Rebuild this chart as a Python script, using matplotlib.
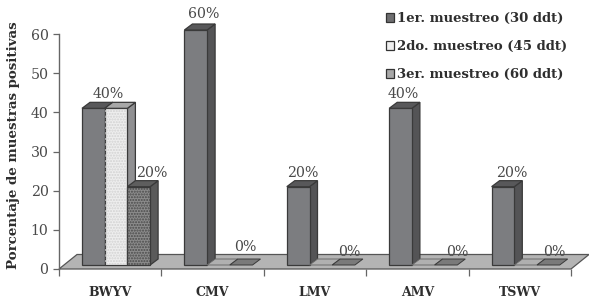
import matplotlib
matplotlib.use("Agg")
import matplotlib.pyplot as plt
from matplotlib.patches import Polygon, Patch

categories = ["BWYV", "CMV", "LMV", "AMV", "TSWV"]
series_names = ["1er. muestreo (30 ddt)", "2do. muestreo (45 ddt)", "3er. muestreo (60 ddt)"]
muestreo_1 = [40, 60, 20, 40, 20]
muestreo_2 = [40, 0, 0, 0, 0]
muestreo_3 = [20, 0, 0, 0, 0]
y_ticks = [0, 10, 20, 30, 40, 50, 60]
ylabel = "Porcentaje de muestras positivas"

# label: (category, series, text, dx px from bar centre, px above axis zero)
value_labels = [
    (0, 1, "40%", -8, 175), (0, 2, "20%", 13, 96),
    (1, 0, "60%", 8, 255), (1, 2, "0%", 4, 22),
    (2, 0, "20%", 5, 96), (2, 2, "0%", 6, 17),
    (3, 0, "40%", 3, 175), (3, 2, "0%", 11, 17),
    (4, 0, "20%", 9, 96), (4, 2, "0%", 6, 17),
]

W, H = 589, 300
L, R, B, T = 59.0, 571.0, 269.0, 34.0
fig = plt.figure(figsize=(W / 100, H / 100), dpi=100)
ax = fig.add_axes([L / W, 1 - B / H, (R - L) / W, (B - T) / H])
ax.set_xlim(0, 5)
ax.set_ylim(0, 60)
ax.patch.set_visible(False)

SERIF = "DejaVu Serif"
DARK = "#3a3a3a"
TXT = "#4a4a4a"
px_x = 5 / (R - L)
px_y = 60 / (B - T)

# Floor
DX, DY = 18 * px_x, 14.5 * px_y
ax.add_patch(Polygon([(0, 0), (5, 0), (5 + DX, DY), (DX, DY)], closed=True,
                     facecolor="#b4b4b4", edgecolor="#555555", lw=0.9,
                     clip_on=False, zorder=1))

BW = 22.7 * px_x
START = 23 * px_x
D = 8 * px_x
E = 6 * px_y
BASE = 4 * px_y

styles = [
    dict(front="#7c7d80", top="#58585a", side="#545456", hatch=None, hc=None),
    dict(front="#eeeeee", top="#a8a8a8", side="#909092", hatch="......", hc="#d2d2d2"),
    dict(front="#8c8c8c", top="#5e5e5e", side="#5a5a5a", hatch="......", hc="#4a4a4a"),
]


def bar3d(x, v, st, z):
    y0, y1 = BASE, BASE + v
    kw = dict(closed=True, clip_on=False, zorder=z, lw=0.9, edgecolor=DARK)
    if v > 0:
        ax.add_patch(Polygon([(x + BW, y0), (x + BW + D, y0 + E), (x + BW + D, y1 + E), (x + BW, y1)],
                             facecolor=st["side"], **kw))
        ax.add_patch(Polygon([(x, y0), (x + BW, y0), (x + BW, y1), (x, y1)],
                             facecolor=st["front"], **kw))
        if st["hatch"]:
            ax.add_patch(Polygon([(x, y0), (x + BW, y0), (x + BW, y1), (x, y1)], closed=True,
                                 facecolor="none", edgecolor=st["hc"], hatch=st["hatch"],
                                 lw=0, clip_on=False, zorder=z))
    flat_light = v == 0 and st is styles[1]
    top = "#b0b0b0" if flat_light else ("#7a7a7a" if v == 0 else st["top"])
    ax.add_patch(Polygon([(x, y1), (x + BW, y1), (x + BW + D, y1 + E), (x + D, y1 + E)],
                         facecolor=top, closed=True, clip_on=False, zorder=z,
                         lw=0.7 if v == 0 else 0.9,
                         edgecolor="#6a6a6a" if flat_light else DARK))


all_series = [muestreo_1, muestreo_2, muestreo_3]
for i in range(len(categories)):
    for s, vals in enumerate(all_series):
        bar3d(i + START + s * BW, vals[i], styles[s], 3 + s)

for c, s, txt, dx, up in value_labels:
    xc = c + START + (s + 0.5) * BW
    ax.text(xc + dx * px_x, up * px_y, txt, ha="center", va="center", family=SERIF,
            fontsize=10.2, color=TXT, clip_on=False, zorder=10)

# Axes
for sp in ("top", "right", "bottom"):
    ax.spines[sp].set_visible(False)
ax.spines["left"].set_color("#666666")
ax.spines["left"].set_linewidth(1.0)
ax.set_yticks(y_ticks)
ax.set_xticks(range(len(categories) + 1))
ax.set_xticklabels([""] * (len(categories) + 1))
ax.tick_params(axis="y", length=4.5, width=0.9, color="#666666", labelsize=10.2,
               labelcolor=TXT, pad=3)
ax.tick_params(axis="x", length=5, width=0.9, color="#666666")
for t in ax.get_yticklabels():
    t.set_family(SERIF)
ax.set_xticks([i + 0.5 for i in range(len(categories))], minor=True)
ax.set_xticklabels(categories, minor=True, family=SERIF, fontweight="bold",
                   fontsize=9.0, color="#2e2e2e")
ax.tick_params(axis="x", which="minor", length=0, pad=12)

fig.text(14 / W, 1 - 145 / H, ylabel, rotation=90, ha="center", va="center",
         family=SERIF, fontweight="bold", fontsize=9.6, color="#2e2e2e")

handles = [Patch(facecolor=c, edgecolor="#333333", lw=0.9)
           for c in ("#6e6e70", "#efefef", "#a8a8a8")]
ax.legend(handles, series_names, loc="upper left",
          bbox_to_anchor=((386 - L) / (R - L), (B - 12) / (B - T)),
          frameon=False, prop={"family": SERIF, "weight": "bold", "size": 9.55},
          labelcolor="#2e2e2e", handlelength=0.6, handleheight=0.7,
          handletextpad=0.2, labelspacing=1.13, borderpad=0, borderaxespad=0)

fig.savefig("out.png", dpi=100, facecolor="white")
